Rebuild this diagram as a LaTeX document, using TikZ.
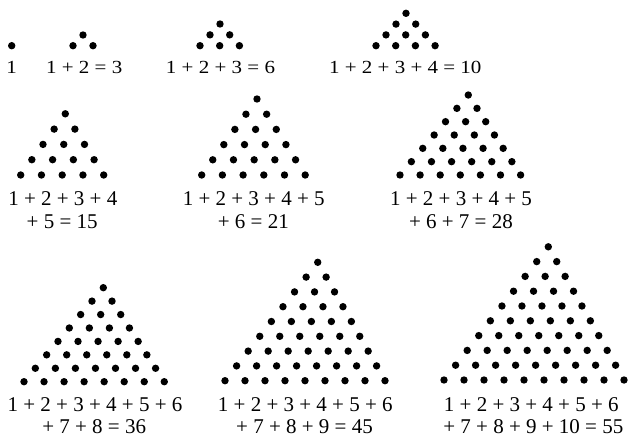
\documentclass[tikz,border=0pt]{standalone}
\usepackage{fontspec}
\setmainfont{Liberation Serif}
\usetikzlibrary{positioning}

% #1 rows, (#2,#3) lowest left dot, #4 dot gap, #5 row rise, #6 row shift
\newcommand{\dotrows}[6]{%
  \foreach \r in {1,...,#1}{
    \foreach \k in {\r,...,#1}{
      \fill ({#2+(\r-1)*#6+(\k-\r)*#4},{#3-(\r-1)*#5}) circle (3.7pt);
    }
  }
}
\newcommand{\squash}[1]{\scalebox{1}[0.88]{#1}}

\tikzset{sum/.style={anchor=base,inner sep=0pt,font=\fontsize{21}{23}\selectfont}}

\begin{document}
\begin{tikzpicture}[x=1pt,y=-1pt]
  \useasboundingbox (0,0) rectangle (629,436);
  % first row
  \dotrows{1}{11.7}{45.7}{20}{10.8}{10}
  \dotrows{2}{73}{45.7}{20}{10.7}{10}
  \dotrows{3}{200}{45.7}{19.7}{10.85}{10}
  \dotrows{4}{376}{45.7}{19.7}{10.8}{10}
  \node[sum] (t1) at (11.7,74) {\squash{1}};
  \node[sum] (t3) at (84.2,74) {\squash{1 + 2 = 3}};
  \node[sum] (t6) at (220.5,74) {\squash{1 + 2 + 3 = 6}};
  \node[sum] (t10) at (405.3,74) {\squash{1 + 2 + 3 + 4 = 10}};
  % second row
  \dotrows{5}{20.7}{175}{20.75}{15.3}{11.15}
  \dotrows{6}{201.7}{175}{20.7}{15.2}{11.06}
  \dotrows{7}{400}{175}{20.1}{13.33}{11.38}
  \node[sum] (t15a) at (62.8,205) {1 + 2 + 3 + 4};
  \node[sum] (t15b) at (62.2,228.3) {+ 5 = 15};
  \node[sum] (t21a) at (253.7,205) {1 + 2 + 3 + 4 + 5};
  \node[sum] (t21b) at (253.3,228.3) {+ 6 = 21};
  \node[sum] (t28a) at (461,205) {1 + 2 + 3 + 4 + 5};
  \node[sum] (t28b) at (460.9,228.3) {+ 6 + 7 = 28};
  % third row
  \dotrows{8}{24}{381.7}{20.04}{13.43}{11.33}
  \dotrows{9}{225}{380.7}{20}{14.8}{11.59}
  \dotrows{10}{444}{380}{20}{14.8}{11.59}
  \node[sum] (t36a) at (95,411.5) {1 + 2 + 3 + 4 + 5 + 6};
  \node[sum] (t36b) at (94.2,433.5) {+ 7 + 8 = 36};
  \node[sum] (t45a) at (305.3,411.5) {1 + 2 + 3 + 4 + 5 + 6};
  \node[sum] (t45b) at (304.5,433.5) {+ 7 + 8 + 9 = 45};
  \node[sum] (t55a) at (531.3,411.5) {1 + 2 + 3 + 4 + 5 + 6};
  \node[sum] (t55b) at (533.3,433.5) {+ 7 + 8 + 9 + 10 = 55};
\end{tikzpicture}
\end{document}
